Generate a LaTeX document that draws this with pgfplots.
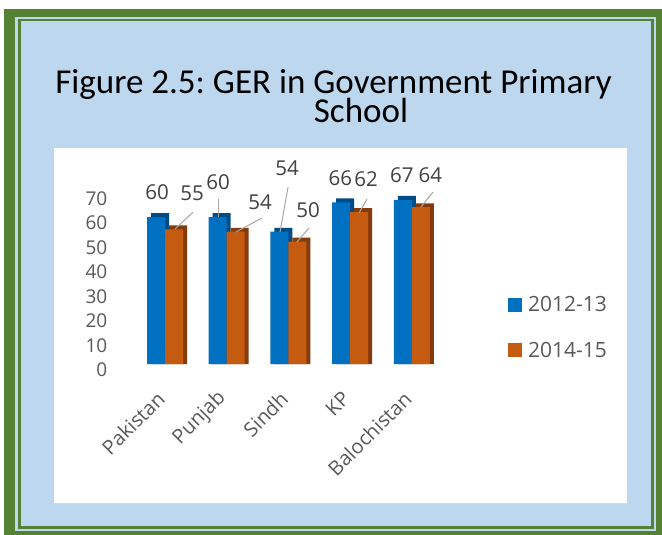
\documentclass[border=0pt]{standalone}
\usepackage{fontspec}
\setmainfont{Open Sans}
\newfontfamily\titlefont{Carlito}
\usepackage{pgfplots}
\pgfplotsset{compat=1.18}
\definecolor{frameG}{HTML}{548235}
\definecolor{bgBlue}{HTML}{BDD7EE}
\definecolor{barB}{HTML}{0070C0}
\definecolor{barBd}{HTML}{004C86}
\definecolor{barO}{HTML}{C55A11}
\definecolor{barOd}{HTML}{843C0C}
\definecolor{txt}{HTML}{595959}
\definecolor{lbl}{HTML}{404040}
\definecolor{lead}{HTML}{A6A6A6}
\frenchspacing
\begin{document}
\begin{tikzpicture}
\begin{scope}[x=1bp,y=-1bp]
\useasboundingbox (0,0) rectangle (662,535);
\fill[white] (0,0) rectangle (662,535);
\fill[frameG] (4,9) rectangle (662,535);
\fill[bgBlue] (15,17) rectangle (656,531);
\draw[frameG, line width=2.2bp] (19.5,20) rectangle (652.5,527.5);
\fill[white] (54,148) rectangle (627,503);
\draw[black!15, line width=1bp] (54,503) -- (627,503);
\node[anchor=base, font=\titlefont\fontsize{35bp}{35bp}\selectfont] at (333.5,94) {Figure 2.5: GER in Government Primary};
\node[anchor=base, font=\titlefont\fontsize{35bp}{35bp}\selectfont] at (361,123) {School};
\end{scope}
\begin{axis}[
  at={(109.5bp,-364bp)}, anchor=south west,
  scale only axis, width=364bp, height=196bp,
  xmin=-0.9, xmax=5.0, ymin=0, ymax=80,
  axis line style={draw=none}, tick style={draw=none},
  clip=false,
  ytick={0,10,...,70},
  /pgf/number format/assume math mode=true,
  yticklabel style={font=\fontsize{19bp}{19bp}\selectfont, text=txt, anchor=east, inner sep=0pt, xshift=-2bp, yshift=-6bp},
  xtick={0,1,2,3,4}, xticklabels={Pakistan,Punjab,Sindh,KP,Balochistan},
  xticklabel style={font=\fontsize{20bp}{20bp}\selectfont, text=txt, inner sep=0pt, yshift=-27bp, xshift=-4bp, rotate=45, anchor=east},
  ybar, bar width=18bp,
  legend style={at={(1.093,0.186)}, anchor=west, draw=none, fill=none, inner sep=0pt,
    font=\fontsize{21bp}{21bp}\selectfont, text=txt, row sep=24bp, nodes={inner sep=2.5bp}},
  legend cell align=left,
  legend image code/.code={\fill[#1] (0bp,-7bp) rectangle (14bp,7bp); \path (18bp,0bp);},
]
\addplot[fill=barBd, draw=none, bar shift=-5bp, forget plot] coordinates {(0,61.6) (1,61.6) (2,55.6) (3,67.6) (4,68.6)};
\addplot[fill=barB, draw=none, bar shift=-9bp] coordinates {(0,60) (1,60) (2,54) (3,66) (4,67)};
\addlegendentry{2012-13}
\addplot[fill=barOd, draw=none, bar shift=13bp, forget plot] coordinates {(0,56.6) (1,55.6) (2,51.6) (3,63.6) (4,65.6)};
\addplot[fill=barO, draw=none, bar shift=9bp] coordinates {(0,55) (1,54) (2,50) (3,62) (4,64)};
\addlegendentry{2014-15}
\begin{scope}[lead, line width=1bp]
\draw (axis cs:0.454,62.0) -- (axis cs:0.162,55.1);
\draw (axis cs:0.859,67.3) -- (axis cs:0.859,60.0);
\draw (axis cs:1.572,59.6) -- (axis cs:1.151,53.9);
\draw (axis cs:1.994,72.2) -- (axis cs:1.864,53.9);
\draw (axis cs:2.334,55.5) -- (axis cs:2.139,49.8);
\draw (axis cs:3.274,67.3) -- (axis cs:3.144,61.6);
\draw (axis cs:4.344,70.2) -- (axis cs:4.149,64.1);
\end{scope}
\begin{scope}[every node/.style={font=\fontsize{20.5bp}{20.5bp}\selectfont, text=lbl, inner sep=0pt}]
\node at (axis cs:-0.13,70.2) {60};
\node at (axis cs:0.44,69.8) {55};
\node at (axis cs:0.86,74.3) {60};
\node at (axis cs:1.54,66.1) {54};
\node at (axis cs:1.98,80.0) {54};
\node at (axis cs:2.32,62.9) {50};
\node at (axis cs:2.84,75.9) {66};
\node at (axis cs:3.26,75.5) {62};
\node at (axis cs:3.84,77.1) {67};
\node at (axis cs:4.30,76.9) {64};
\end{scope}
\end{axis}
\end{tikzpicture}
\end{document}
